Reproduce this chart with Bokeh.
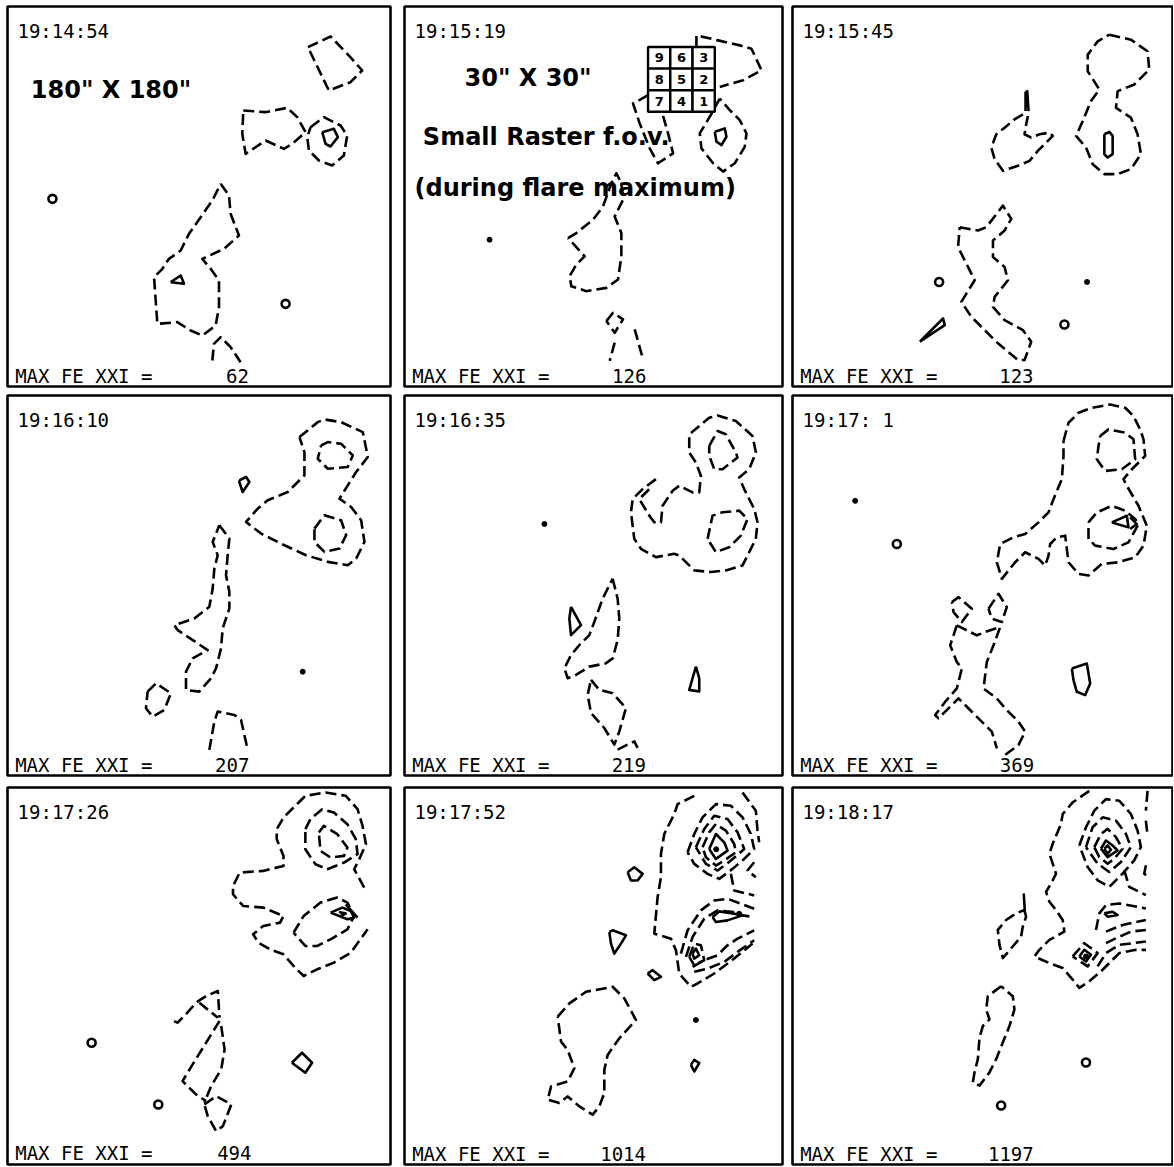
from bokeh.plotting import figure
from bokeh.layouts import gridplot
from bokeh.models import Range1d
from bokeh.core.properties import value
from bokeh.embed import file_html
from bokeh.resources import INLINE

# ---------------- data (positions in traced map units, y grows downward) -------------
TIMES = ["19:14:54", "19:15:19", "19:15:45", "19:16:10", "19:16:35",
         "19:17: 1", "19:17:26", "19:17:52", "19:18:17"]
MAX_FE = [62, 126, 123, 207, 219, 369, 494, 1014, 1197]
MAX_LABEL = "MAX FE XXI ="

# frame extent of each map in the traced units
FRAME_L = [2.0, 3.5, 2.2, 2.0, 2.5, 2.2, 3.0, 3.0, 1.8]
FRAME_R = [117.0, 116.8, 116.5, 116.8, 116.0, 116.2, 116.8, 116.5, 116.0]
FRAME_T = [1.8, 1.8, 1.5, 2.0, 1.8, 1.8, 3.5, 3.0, 3.0]
FRAME_B = [115.8, 116.2, 116.0, 116.2, 116.3, 116.2, 116.5, 116.5, 116.8]

# ---- 19:14:54
P1_DASHED = [
    [(92.2, 14), (99, 10.8), (104.5, 16.5), (108.5, 21), (105, 24.5), (98.5, 27), (92.2, 14)],
    [(72.8, 33), (79.5, 33.5), (86, 32.2), (89, 35), (91.5, 39.5), (87.5, 43), (85, 44.5), (79.5, 42),
     (73.5, 46), (72.5, 40), (72.8, 33)],
    [(93, 38), (97, 35), (102, 37.5), (104, 40.5), (103, 46.5), (99.5, 49.5), (95.5, 48), (92.5, 45),
     (92, 41), (93, 38)],
    [(66, 55), (68.5, 58.5), (69, 64), (71.5, 70.5), (67, 74.5), (60.5, 77.5), (63, 80.5), (65.5, 84),
     (65.5, 92), (64.5, 97.5), (60.5, 100.5), (57, 99), (53, 96.5), (47, 97), (46.5, 90), (46, 83),
     (48.5, 80.5), (50.5, 77.5), (54, 75), (56.5, 70), (60, 65), (63.5, 60), (66, 55)],
    [(63.5, 108), (64, 103), (66, 101), (69, 104), (72, 108.5)],
]
P1_SOLID = [
    [(96.5, 39.5), (100, 38.5), (101.2, 41), (99, 43.8), (97.5, 43), (96.5, 39.5)],
    [(51, 84.5), (54, 82.5), (55, 85), (51, 84.5)],
]
P1_RINGS = [(15.5, 59.5), (85.5, 91)]
P1_DOTS = []

# ---- 19:15:19
P2_DASHED = [
    [(91, 14), (91, 10.5), (97.5, 12), (104, 13.5), (107.5, 14.5), (110.5, 21), (105, 24), (98, 26)],
    [(76.5, 28.5), (72, 31), (74, 37), (77, 44.5), (79.5, 49), (84, 46), (82.5, 40), (80.5, 33), (78.5, 28.5)],
    [(98, 29.5), (95, 35), (92, 40), (92.5, 44.5), (96, 49), (99, 51.5), (102.5, 49), (105.5, 44), (106, 40),
     (104, 36), (101, 33), (98, 29.5)],
    [(52.5, 71.5), (55, 70), (60, 66), (63, 62), (65.5, 55), (67, 52), (68.5, 55), (69, 60), (66.5, 65),
     (68.5, 70), (68.5, 77), (67.5, 84), (64, 86.5), (58, 87.5), (53.5, 86), (53, 83), (55, 79.5),
     (57.5, 77), (52.5, 71.5)],
    [(64, 96.5), (66, 94), (69, 96), (66.5, 100), (64, 96.5)],
    [(66.5, 103), (65, 108.5)],
    [(72.5, 99), (75, 108)],
]
P2_SOLID = [
    [(96.5, 39.5), (99.5, 38.5), (100, 41), (98.5, 43.5), (97, 42.5), (96.5, 39.5)],
]
P2_RINGS = []
P2_DOTS = [(29, 72)]

# ---- 19:15:45
P3_DASHED = [
    [(97.5, 10), (104, 11.5), (109, 15), (109.5, 20.5), (105, 25), (100, 27), (99.5, 32), (104, 35),
     (106, 40), (107, 46), (104, 50.5), (100, 52), (96, 52), (92.5, 49), (90.5, 44), (87.5, 40.5),
     (89.5, 36), (92, 30), (94.5, 26.5), (91, 21), (91, 16), (94, 12), (97.5, 10)],
    [(71.5, 34), (69, 35.5), (66, 38), (63.5, 40), (62, 44), (63, 47.5), (65.5, 51), (70, 49.5),
     (73.5, 48), (76, 45), (78.5, 42.5), (80.5, 40.5), (79.5, 39.5), (76.5, 40), (74, 41), (72, 40),
     (72.5, 37), (73, 34.5)],
    [(52.5, 68), (58, 69), (60.5, 68), (65.5, 61.5), (68, 65.5), (66, 69), (62.5, 72), (62.5, 77),
     (66, 80), (67, 84), (63, 89), (62.5, 92), (66, 96), (71.5, 99), (74, 102.5), (72, 108), (70, 108),
     (64, 103), (60, 99), (56, 95), (53, 90.5), (54.5, 88), (57, 84), (54.5, 79), (52, 74), (52.5, 68)],
]
P3_SOLID = [
    [(72.3, 33), (72.3, 27.5), (72.8, 27), (73.2, 33)],
    [(96, 40), (97.5, 39.3), (98.5, 40.5), (98.5, 46), (97, 47), (96, 46), (96, 40)],
    [(40.5, 102.5), (46.5, 96.5), (47.5, 95.5), (48, 97.5), (40.5, 102.5)],
]
P3_RINGS = [(46.3, 84.5), (84, 97.3)]
P3_DOTS = [(90.8, 84.5)]

# ---- 19:16:10
P4_DASHED = [
    [(89.5, 14.5), (95, 10), (97, 9.2), (102, 10), (108.5, 13), (110, 20.5), (106.5, 25), (104, 29),
     (101.5, 33), (105, 35.5), (108, 39.5), (109, 46), (106.5, 51), (104, 53), (98, 52), (91.5, 50),
     (85, 47), (78, 43.5), (73.5, 40), (77, 36), (80, 33.5), (86, 31), (91, 26), (91, 19), (89.5, 14.5)],
    [(96, 17), (98, 16), (102, 16.5), (105.5, 20), (104, 23.5), (98, 24), (95, 21), (96, 17)],
    [(94, 42), (97, 38), (102, 39.5), (103.5, 44), (101.5, 48), (97, 49), (94, 46), (94, 42)],
    [(65.5, 41), (68.5, 45), (68, 50), (67.5, 56), (68.5, 61), (68.5, 66), (66.5, 72), (66, 78),
     (64.5, 84), (63, 87), (59.5, 91), (55.5, 90.5), (55.5, 85), (57.5, 81), (62, 78.5), (53, 72.5),
     (52, 71), (58, 69), (62.5, 65.5), (63.5, 60), (64, 54), (65, 50), (63.5, 46), (65.5, 41)],
    [(44, 91), (46.5, 88.5), (51, 91.5), (49, 96.5), (45.5, 98.5), (43.5, 96), (44, 91)],
    [(62.5, 108.5), (64, 100), (65, 97), (70, 98), (72, 99.5), (74, 108.5)],
]
P4_SOLID = [
    [(71.5, 27.5), (73.5, 26.5), (74.5, 28), (72.5, 31), (71.5, 28), (71.5, 27.5)],
]
P4_RINGS = []
P4_DOTS = [(90.5, 85)]

# ---- 19:16:35
P5_DASHED = [
    [(78, 27), (74, 30), (71, 33), (70.5, 37), (71, 41), (71.5, 45), (73.5, 48), (78, 50.5), (83.5, 49.5),
     (85, 50), (89.5, 54.5), (94.5, 55), (99, 54.5), (104, 53), (106, 49), (108, 45), (108.5, 40),
     (107.5, 36), (104.5, 30), (103, 26.5), (106, 24), (108, 19), (107, 14), (102, 9.5), (96.5, 7.8),
     (94, 8.5), (88, 13.5), (88, 19), (90, 22), (91.5, 26), (91, 31), (89, 31), (85, 29), (83, 30.5),
     (80, 35), (79.5, 40), (77.5, 40), (76, 38), (73, 33), (76.5, 29.5)],
    [(94, 17), (96.5, 12.5), (99, 13.5), (102, 19), (102.5, 20.5), (98, 24), (95.5, 24), (94, 20), (94, 17)],
    [(93.5, 45), (95, 38), (98, 37), (103, 36.5), (105.5, 39), (103.5, 44), (100, 47.5), (96, 49), (93.5, 45)],
    [(65, 57), (66.5, 63), (67, 69), (66.5, 75.5), (65, 81), (63, 82.5), (58, 83.5), (54, 86), (51.5, 87),
     (50.5, 84), (52.5, 80), (55, 77), (58, 74), (59.5, 70), (62, 63), (65, 57)],
    [(58.5, 87.5), (61, 90.5), (65, 91.5), (69, 96), (67, 103), (65.5, 107), (62.5, 102), (58.5, 97.5),
     (57.5, 92), (58.5, 87.5)],
    [(66.5, 108.5), (71.5, 106), (72.5, 108)],
]
P5_SOLID = [
    [(52.5, 65.5), (55.5, 71), (52.5, 74), (52, 69), (52.5, 65.5)],
    [(90, 83.5), (91, 87), (91, 91), (88, 90.5), (89, 87), (90, 83.5)],
]
P5_RINGS = []
P5_DOTS = [(44.5, 40.5)]

# ---- 19:17:01
P6_DASHED = [
    [(83.5, 15.5), (85, 10), (88, 7), (92, 5.5), (97.5, 4.5), (102, 5.5), (104.5, 8), (106.5, 12),
     (107.5, 15), (108, 20), (104, 24), (101.5, 27), (102.5, 29), (106, 35), (108.5, 41), (107.5, 47),
     (105, 50.5), (100, 52), (95, 52.5), (91, 56), (88, 55.5), (85, 52), (84.5, 48), (84, 44),
     (81.5, 44.5), (79.5, 46.5), (79, 50), (78, 53), (76, 51), (72, 49), (69, 52), (65, 57), (63.5, 52),
     (64.5, 46.5), (68.5, 44.5), (72, 43.5), (76, 40), (79, 37), (80.5, 33), (83, 27), (83.5, 20), (83.5, 15.5)],
    [(94.5, 14), (97, 12), (102, 13), (104.5, 15), (105, 21), (101, 24), (96, 24.5), (93.5, 21), (94, 17), (94.5, 14)],
    [(91, 40), (93.5, 37), (98, 35), (102, 36.5), (105, 39), (106, 40.5), (103, 46), (98.5, 48), (93, 47),
     (91, 45), (91, 40)],
    [(50, 64), (52, 62.5), (56, 66), (53, 70), (50.5, 67), (50, 64)],
    [(61, 66), (64, 61.5), (66.5, 65.5), (65, 70), (62, 69), (61, 66)],
    [(51.5, 71), (57.5, 74), (60, 73), (64.5, 71.5), (62.5, 77), (60.5, 82), (59.5, 90), (63.5, 93),
     (66, 96), (70, 100), (72, 103), (70, 107), (66, 110)],
    [(51.5, 71), (49.5, 77), (51.5, 82), (53, 84), (51.5, 90), (48, 94), (45, 98), (46, 99), (52, 93),
     (56, 97), (62, 103), (63.5, 108)],
]
P6_SOLID = [
    [(98, 40), (102.5, 38), (103, 41.5), (98, 40)],
    [(103.5, 38.5), (105.5, 40.5), (103.5, 42)],
    [(86, 84), (90.5, 82.5), (91.5, 88.5), (90, 92), (87.5, 91), (86.5, 87.5), (86, 84)],
]
P6_RINGS = [(33.5, 46.5)]
P6_DOTS = [(21, 33.5)]

# ---- 19:17:26
P7_DASHED = [
    [(109, 33.5), (106, 28), (107.5, 25), (109.5, 20.5), (108.5, 15), (107, 10), (103.5, 6), (97.5, 5),
     (91.5, 6), (88, 9.5), (85, 12.5), (83, 16), (83, 19), (85, 24), (85, 27), (79, 28.5), (72, 29),
     (70, 33), (70, 35.5), (73, 39), (79, 39.5), (85, 42), (84, 44), (79, 45), (76, 47.5), (77.5, 50),
     (81, 52), (85, 53.5), (88, 57), (91, 60), (95, 58), (100, 56), (105, 53), (110, 46)],
    [(91.5, 16), (93, 13), (96.5, 10), (100, 11), (104, 14.5), (106.5, 19), (107, 23.5), (103, 26),
     (98, 28), (94.5, 26.5), (91.5, 22), (91.5, 16)],
    [(95.5, 17), (97, 15), (101, 17.5), (104, 21.5), (103, 24), (99, 24.5), (96, 22.5), (95.5, 17)],
    [(88, 47), (91, 42), (96, 38), (101, 36.5), (104, 38), (106, 42), (104, 46), (99, 49), (95, 51),
     (91.5, 51), (88, 47)],
    [(52.5, 73.5), (53.5, 74), (56, 71.5), (59, 68), (62, 66), (65.5, 64.5), (66, 72.5)],
    [(60, 68), (65.5, 72.5)],
    [(66, 73.5), (62, 80), (58, 86.5), (55, 91.5), (59, 95.5), (62, 97.5)],
    [(66.5, 75), (67.5, 82), (66.5, 88), (63.5, 93), (61.5, 98)],
    [(61.5, 98.5), (65, 96), (69.5, 98.5), (67, 105), (65, 106.5), (62.5, 102), (61.5, 98.5)],
]
P7_SOLID = [
    [(99, 41), (102.5, 39.5), (105, 40.5), (106, 42.5), (104, 43), (99, 41)],
    [(101.5, 40.8), (103.5, 41.3), (102, 42)],
    [(103.5, 38.5), (107, 42.5)],
    [(87.5, 86), (90.5, 83), (93.5, 86), (91.5, 89), (87.5, 86)],
]
P7_RINGS = [(28, 80), (47.8, 98.5)]
P7_DOTS = []

# ---- 19:17:52
P8_DASHED = [
    [(90, 5.5), (85, 8), (84, 11), (81, 17), (80, 23), (80, 30), (79, 36), (78, 47), (83, 48.5),
     (84.5, 52), (85.5, 59), (89, 63), (91, 62), (96, 59), (102, 54.5), (107.5, 50)],
    [(104.5, 4.5), (108.5, 10), (109, 16), (109.5, 19.5)],
    [(88, 22.5), (90, 17), (92.5, 12), (96.5, 8), (101, 8.5), (104.5, 12), (107, 17), (108, 21.5),
     (105, 24.5), (101.5, 27.5), (97.5, 30.5), (94, 29), (90, 26), (88, 22.5)],
    [(90.5, 21), (93, 15.5), (96, 11.5), (100, 12.5), (103, 16.5), (105, 21.5), (101, 25), (97, 28),
     (93.5, 26), (90.5, 21)],
    [(92.5, 21), (94.5, 16.5), (96.5, 14), (99.5, 16), (102, 20), (102.5, 22.5), (99, 25), (96.5, 26.5),
     (93.5, 24), (92.5, 21)],
    [(108, 25.5), (106, 28), (108.5, 30)],
    [(101, 29), (102, 34), (108, 35.5)],
    [(86, 53), (88, 46), (92, 40), (96, 37), (100, 36.5), (104, 38), (108, 39.5)],
    [(87.5, 54), (89.5, 48), (93, 42.5), (97, 40), (102, 40.5), (104.5, 41.5), (108, 42)],
    [(89.5, 57), (93, 55), (97, 53.5), (100, 50.5), (103, 48.5), (108, 46)],
    [(90, 58.5), (94, 57.5), (99, 55.5), (103, 52.5), (108, 49)],
    [(88.5, 54), (90, 50), (92, 50.5), (93, 55), (90, 56.5), (88.5, 54)],
    [(49, 72), (52.5, 68), (57.5, 64.5), (65.5, 63), (69, 66.5), (72.5, 73), (67.5, 78.5), (64, 83.5),
     (63, 88), (63, 95), (61.5, 99), (59.5, 101.5), (55.5, 99), (52, 96), (49.5, 98), (46, 97), (47, 93),
     (52, 91.5), (54, 87.5), (52, 82), (50, 79.5), (49, 72)],
]
P8_SOLID = [
    [(94.5, 21.5), (96.5, 17), (99, 19.5), (100, 22), (96.5, 24.5), (94.5, 21.5)],
    [(95.5, 42), (97.5, 40.3), (102, 41), (104.5, 41.5), (100, 43), (96.5, 43.5), (95.5, 42)],
    [(89.5, 53), (90.5, 51.5), (91.5, 53.5), (90, 54.5), (89.5, 53)],
    [(70, 28.5), (72, 27), (74.5, 29), (73, 31), (71, 31), (70, 28.5)],
    [(64.5, 46.5), (65.5, 46), (69.5, 47.5), (68, 50), (66, 53), (65, 50), (64.5, 46.5)],
    [(76, 59), (77.5, 58), (80, 60), (78, 61), (76, 59)],
    [(89, 86.5), (90, 85), (91.5, 86), (90, 88.5), (89, 86.5)],
]
P8_RINGS = []
P8_DOTS = [(90.5, 73), (96.6, 21.6), (103.5, 41)]

# ---- 19:18:17
P9_DASHED = [
    [(91, 4), (86, 7.5), (83, 11), (82.5, 14), (80, 20), (79, 23), (80, 26), (81, 29), (79.5, 32),
     (78, 34.5), (79, 37.5), (81, 40), (83, 43), (83.5, 46.5), (79, 49), (76, 52), (74.5, 54), (79, 56),
     (83, 57.5), (86, 61), (88, 63.5), (91, 61.5), (95, 58), (100, 53), (105, 52), (108, 52)],
    [(108.5, 4), (108, 10)],
    [(108, 13), (108.5, 17.5)],
    [(88, 20.5), (90, 15), (92.5, 10), (96, 6.5), (100, 7), (103.5, 11), (105.5, 16), (106.5, 21),
     (104.5, 25), (101, 29), (97, 33), (93.5, 31), (90.5, 27), (88, 20.5)],
    [(90, 21), (92, 15), (95, 12), (99, 13), (102, 17), (103.5, 21), (100.5, 25.5), (97, 28.5),
     (93.5, 26), (90, 21)],
    [(92.5, 21), (94.5, 17), (96.5, 15.5), (99, 18), (101, 21.5), (98.5, 24.5), (96.5, 26), (94, 24), (92.5, 21)],
    [(108, 26.5), (107.5, 29), (108.5, 30)],
    [(101.5, 28), (103, 33), (108, 35.5)],
    [(93, 46), (94, 41), (96, 38.5), (100, 38), (108, 39.5)],
    [(96, 46.5), (101, 44.5), (108, 43)],
    [(96, 50), (99, 48.5), (103.5, 46.5), (108, 46)],
    [(93.5, 57), (96, 53), (100, 50.5), (108, 49.5)],
    [(86, 54), (89.5, 50), (93.5, 53), (90.5, 57), (86, 54)],
    [(71.5, 40), (72, 42), (71, 45), (70.5, 48), (68, 51), (65, 54.5), (64, 50.5), (63.5, 46), (66, 43),
     (69, 41), (71.5, 40)],
    [(64.5, 63), (60.5, 66), (60, 70), (61, 73), (59, 75), (58, 78.5), (57.5, 85), (56.5, 89), (56, 92),
     (58, 93), (61, 89), (63, 85), (65, 80), (67, 75), (68.5, 70), (68, 66), (64.5, 63)],
]
P9_SOLID = [
    [(94.5, 21.5), (96, 19), (98, 20.5), (99.5, 22), (96.5, 24), (94.5, 21.5)],
    [(95.5, 21.5), (96.5, 20.5), (97.5, 21.8), (96.5, 23), (95.5, 21.5)],
    [(95.5, 41), (98, 40.5), (99.5, 41.5), (96.5, 42), (95.5, 41)],
    [(88, 54), (89.5, 52), (91.5, 53.5), (90, 55.5), (88, 54)],
    [(71.3, 35), (71.6, 40)],
]
P9_RINGS = [(90, 86), (64.5, 99)]
P9_DOTS = [(90, 54)]

# annotations drawn on the first two maps
P1_NOTE = ['180"  X  180"']
P1_NOTE_POS = [(9.0, 29.8)]
P2_NOTES = ['30"  X  30"', "Small Raster f.o.v.", "(during flare maximum)"]
P2_NOTES_POS = [(21.5, 26.2), (9.0, 44.0), (6.5, 59.5)]
RASTER_LABELS = [[9, 6, 3], [8, 5, 2], [7, 4, 1]]
RASTER_BOX = (76.5, 14.0, 96.5, 33.5)   # left, top, right, bottom

DASHED = [P1_DASHED, P2_DASHED, P3_DASHED, P4_DASHED, P5_DASHED, P6_DASHED, P7_DASHED, P8_DASHED, P9_DASHED]
SOLID = [P1_SOLID, P2_SOLID, P3_SOLID, P4_SOLID, P5_SOLID, P6_SOLID, P7_SOLID, P8_SOLID, P9_SOLID]
RINGS = [P1_RINGS, P2_RINGS, P3_RINGS, P4_RINGS, P5_RINGS, P6_RINGS, P7_RINGS, P8_RINGS, P9_RINGS]
DOTS = [P1_DOTS, P2_DOTS, P3_DOTS, P4_DOTS, P5_DOTS, P6_DOTS, P7_DOTS, P8_DOTS, P9_DOTS]

# ---------------- layout ----------------
COL_W = [397, 390, 386]
COL_BL = [7, 7, 5]
COL_BR = [7, 5, 1]
ROW_H = [391, 389, 386]
ROW_BT = [6, 4, 7]
ROW_BB = [5, 5, 2]

LW = 2.6
DASH = "11 5"
MONO = value("DejaVu Sans Mono")
BOLD = value("DejaVu Sans")
MONO_SHIFT = 2.3   # baseline correction of the svg text, in map units
BOLD_SHIFT = 3.0


def split(lines):
    return [[pt[0] for pt in ln] for ln in lines], [[pt[1] for pt in ln] for ln in lines]


figs = []
for k in range(9):
    r, c = divmod(k, 3)
    p = figure(width=COL_W[c], height=ROW_H[r], output_backend="svg", toolbar_location=None, tools="",
               x_axis_location=None, y_axis_location=None,
               x_range=Range1d(FRAME_L[k], FRAME_R[k]), y_range=Range1d(FRAME_B[k], FRAME_T[k]),
               min_border_left=COL_BL[c], min_border_right=COL_BR[c],
               min_border_top=ROW_BT[r], min_border_bottom=ROW_BB[r],
               background_fill_color="white", border_fill_color="white",
               outline_line_color="black", outline_line_width=2.6)
    p.grid.visible = False

    if DASHED[k]:
        xs, ys = split(DASHED[k])
        p.multi_line(xs, ys, line_color="black", line_width=LW, line_dash=DASH, line_join="round")
    if SOLID[k]:
        xs, ys = split(SOLID[k])
        p.multi_line(xs, ys, line_color="black", line_width=LW, line_join="round")
    if RINGS[k]:
        p.scatter([q[0] for q in RINGS[k]], [q[1] for q in RINGS[k]], marker="circle", size=8,
                  line_color="black", line_width=2.6, fill_color="white")
    if DOTS[k]:
        p.scatter([q[0] for q in DOTS[k]], [q[1] for q in DOTS[k]], marker="circle", size=5,
                  line_color="black", fill_color="black")

    # time stamp and peak value
    p.text(x=[FRAME_L[k] + 3.0], y=[FRAME_T[k] + 9.7 - MONO_SHIFT], text=[TIMES[k]], text_font=MONO,
           text_font_size=value("19px"), text_baseline="alphabetic", text_align="left", text_color="black")
    p.text(x=[FRAME_L[k] + 2.3], y=[FRAME_B[k] - 1.0 - MONO_SHIFT], text=[MAX_LABEL], text_font=MONO,
           text_font_size=value("19px"), text_baseline="alphabetic", text_align="left", text_color="black")
    p.text(x=[FRAME_L[k] + 72.5], y=[FRAME_B[k] - 1.0 - MONO_SHIFT], text=[str(MAX_FE[k])], text_font=MONO,
           text_font_size=value("19px"), text_baseline="alphabetic", text_align="right", text_color="black")

    if k == 0:
        p.text(x=[q[0] for q in P1_NOTE_POS], y=[q[1] - BOLD_SHIFT for q in P1_NOTE_POS], text=P1_NOTE,
               text_font=BOLD, text_font_style="bold", text_font_size=value("24px"),
               text_baseline="alphabetic", text_color="black")
    if k == 1:
        for t, (tx, ty) in zip(P2_NOTES, P2_NOTES_POS):
            p.text(x=[tx], y=[ty - BOLD_SHIFT], text=[t], text_font=BOLD, text_font_style="bold",
                   text_font_size=value("24px"), text_baseline="alphabetic", text_color="black")
        bl, bt, br, bb = RASTER_BOX
        cw = (br - bl) / 3.0
        ch = (bb - bt) / 3.0
        cx, cy, lab = [], [], []
        for i, row in enumerate(RASTER_LABELS):
            for j, n in enumerate(row):
                cx.append(bl + cw * (j + 0.5))
                cy.append(bt + ch * (i + 0.5))
                lab.append(str(n))
        p.rect(cx, cy, width=cw, height=ch, fill_color="white", line_color="black", line_width=2.4)
        p.text(cx, cy, text=lab, text_font=BOLD, text_font_style="bold", text_font_size=value("13px"),
               text_align="center", text_baseline="middle", text_color="black")
    figs.append(p)

grid = gridplot(figs, ncols=3, toolbar_location=None)
open("out.html", "w").write(file_html(grid, INLINE))
